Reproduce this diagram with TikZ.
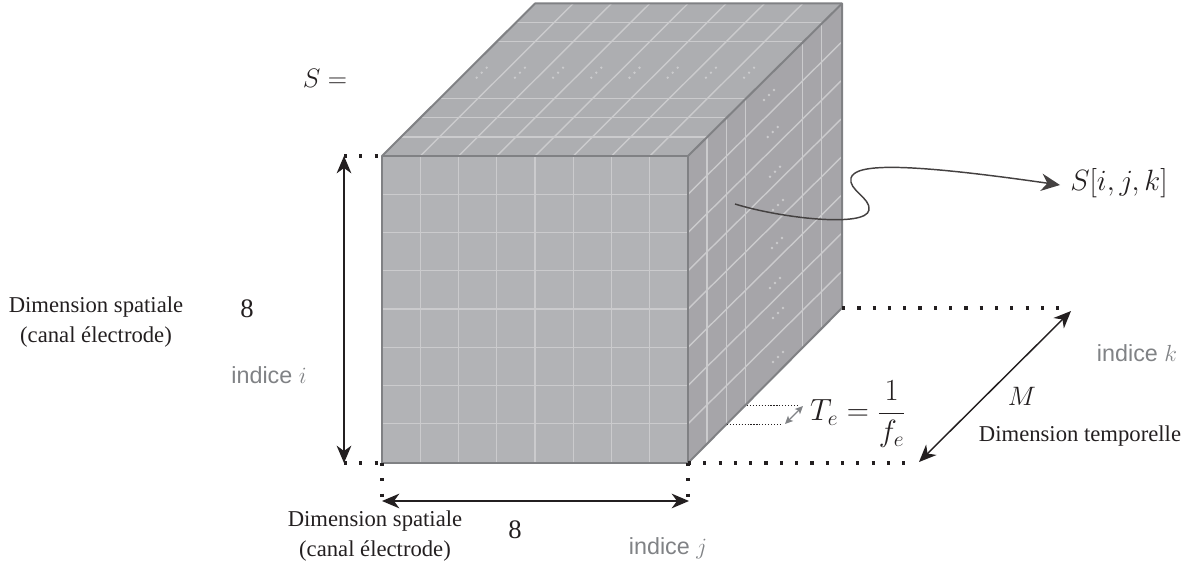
\RequirePackage{fix-cm}
\documentclass[tikz,border=0pt]{standalone}
\usepackage{fontspec}
\setmainfont{Liberation Serif}
\newfontfamily\hv{Liberation Sans}
\usetikzlibrary{arrows.meta}
\definecolor{frontc}{HTML}{B2B3B6}
\definecolor{topc}{HTML}{ADAEB1}
\definecolor{sidec}{HTML}{A6A5A9}
\definecolor{gridc}{HTML}{CBCBCD}
\definecolor{edgec}{HTML}{808184}
\definecolor{darkc}{HTML}{231F20}
\definecolor{idxc}{HTML}{808285}
\tikzset{x=0.75pt,y=-0.75pt,
 gridline/.style={draw=gridc,line width=1.05pt},
 edgeline/.style={draw=edgec,line width=1.5pt,line join=round},
 sqdots/.style={draw=darkc,line width=2.4pt,dash pattern=on 2.4pt off 9.07pt},
 thindots/.style={draw=darkc,line width=0.7pt,dash pattern=on 0.9pt off 1.3pt},
 dimarrow/.style={draw=darkc,line width=1.1pt,{Stealth[length=13pt,width=11pt,inset=4pt]}-{Stealth[length=13pt,width=11pt,inset=4pt]}},
 smallarrow/.style={draw=idxc,line width=1pt,{Stealth[length=6pt,width=5.5pt,inset=1.5pt]}-{Stealth[length=6pt,width=5.5pt,inset=1.5pt]}},
 txt/.style={inner sep=0pt,text=darkc,font=\fontsize{17}{22}\selectfont,align=center},
 idx/.style={inner sep=0pt,text=idxc,font=\hv\fontsize{17.5}{21}\selectfont},
 mth/.style={inner sep=0pt,text=darkc,font=\fontsize{20}{24}\selectfont},
 mthb/.style={inner sep=0pt,text=darkc,font=\fontsize{22}{26}\selectfont},
 numb/.style={inner sep=0pt,text=darkc,font=\fontsize{20}{24}\selectfont},
 griddot/.style={circle,fill=gridc,inner sep=0pt,minimum size=2pt}
}
\newcommand{\tripledots}[2]{%
 \node[griddot] at (#1-5,#2+5) {};
 \node[griddot] at (#1,#2) {};
 \node[griddot] at (#1+5,#2-5) {};}
\begin{document}
\begin{tikzpicture}
\useasboundingbox (0,0) rectangle (1190,567);
% faces
\fill[frontc] (382,156) rectangle (688,463);
\fill[topc] (382,156) -- (535,3.5) -- (842,3.5) -- (688,156) -- cycle;
\fill[sidec] (688,156) -- (842,3.5) -- (842,308) -- (688,463) -- cycle;
% front grid
\foreach \k in {1,...,7} {
 \draw[gridline] ({382+38.25*\k},156) -- ({382+38.25*\k},463);
 \draw[gridline] (382,{156+38.25*\k}) -- (688,{156+38.25*\k});
}
% top grid, depth lines
\foreach \k in {1,...,7} {
 \draw[gridline] ({382+38.25*\k},156) -- ({535+38.25*\k},3.5);
}
\foreach \d in {1,2,3,6,7} {
 \draw[gridline] ({382+19.1*\d},{156-19.1*\d}) -- ({688+19.1*\d},{156-19.1*\d});
 \draw[gridline] ({688+19.1*\d},{156-19.1*\d}) -- ({688+19.1*\d},{463-19.1*\d});
}
% side diagonals
\foreach \k in {1,...,7} {
 \draw[gridline] (688,{156+38.25*\k}) -- (842,{3.5+38.25*\k});
}
% dots
\foreach \k in {0,...,7} { \tripledots{481.7+38.2*\k}{72.7} }
\tripledots{769}{95}
\tripledots{772.7}{132}
\tripledots{775}{171.7}
\tripledots{778}{205}
\tripledots{777}{243}
\tripledots{775}{283}
\tripledots{778}{313}
\tripledots{778}{357}
% edges
\draw[edgeline] (382,156) rectangle (688,463);
\draw[edgeline] (382,156) -- (535,3.5) -- (842,3.5) -- (842,308) -- (688,463);
\draw[edgeline] (688,156) -- (842,3.5);
% named anchors
\coordinate (fTL) at (382,156);
\coordinate (fBL) at (382,463);
\coordinate (fBR) at (688,463);
\coordinate (sBR) at (842,308);
\coordinate (tl) at (344,156);
\coordinate (bl) at (344,463);
\coordinate (dl) at (382,501);
\coordinate (dr) at (689,501);
\coordinate (mA) at (919,462);
\coordinate (mB) at (1071,311);
% dotted guides
\draw[sqdots] (tl) -- (fTL);
\draw[sqdots] (bl) -- (fBL);
\draw[sqdots] (fBL) -- (382,497);
\draw[sqdots] (fBR) -- (688,497);
\draw[sqdots] (fBR) -- (908,463);
\draw[sqdots] (sBR) -- (1062,308);
% dimension arrows
\draw[dimarrow] (tl) -- (bl);
\draw[dimarrow] (dl) -- (dr);
\draw[dimarrow] (mA) -- (mB);
% Te
\draw[thindots] (747,405.5) -- (798,405.5);
\draw[thindots] (727,424.5) -- (782,424.5);
\draw[smallarrow] (785,424) -- (803,406);
% curve
\coordinate (cs) at (735,204);
\coordinate (ce) at (1060,185);
\draw[draw=darkc!85,line width=1.1pt,-{Stealth[length=14pt,width=13pt,inset=4.5pt]}] (cs) .. controls (780,218) and (866,228) .. (869,210) .. controls (871,198) and (848,190) .. (851,178) .. controls (855,164) and (900,162) .. (ce);
% labels
\node[mth] (sEq) at (325,78) {$S=$};
\node[mthb] (sijk) at (1119,183) {$S[i,j,k]$};
\node[txt] (dimL) at (96,322) {Dimension spatiale\\(canal électrode)};
\node[numb] (eightL) at (247,309) {8};
\node[idx] (indI) at (269,375) {indice $i$};
\node[txt] (dimB) at (375,536) {Dimension spatiale\\(canal électrode)};
\node[numb] (eightB) at (515,530) {8};
\node[idx] (indJ) at (668,548) {indice $j$};
\node[idx] (indK) at (1137,353) {indice $k$};
\node[mth] (mLab) at (1022,396) {$M$};
\node[txt] (dimT) at (1080,436) {Dimension temporelle};
\node[mthb,font=\fontsize{23}{27}\selectfont] (te) at (858,414) {$T_e=\displaystyle\frac{1}{f_e}$};
\end{tikzpicture}
\end{document}
